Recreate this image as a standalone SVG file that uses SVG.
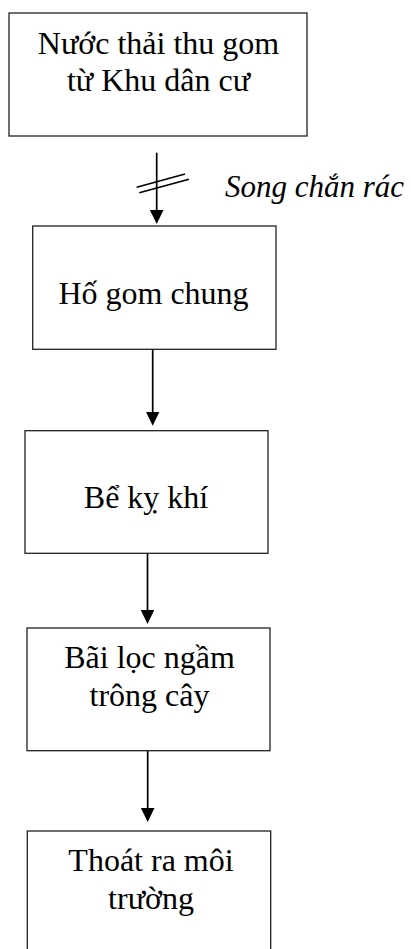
<svg xmlns="http://www.w3.org/2000/svg" width="411" height="949" viewBox="0 0 411 949">
<defs>
<style>
.box{fill:#fff;stroke:#222;stroke-width:1.3}
.t{font-family:"Liberation Serif","Times New Roman",serif;font-size:32px;fill:#000;text-anchor:middle}
.ti{font-family:"Liberation Serif","Times New Roman",serif;font-size:31px;font-style:italic;fill:#000}
.ln{stroke:#000;stroke-width:1.7;fill:none}
.arr{marker-end:url(#ah)}
</style>
<marker id="ah" markerUnits="userSpaceOnUse" markerWidth="14" markerHeight="13.6" refX="1" refY="6.8" orient="auto" viewBox="0 0 14 13.6">
<path d="M0,0 L14,6.8 L0,13.6 Z" fill="#000"/>
</marker>
</defs>
<rect width="411" height="949" fill="#fff"/>
<g id="connectors">
<line class="ln arr" x1="156.7" y1="152.7" x2="156.7" y2="211"/>
<line class="ln" x1="136.7" y1="187.3" x2="185" y2="174"/>
<line class="ln" x1="139.3" y1="192.7" x2="189" y2="179.3"/>
<line class="ln arr" x1="152.7" y1="349" x2="152.7" y2="412.7"/>
<line class="ln arr" x1="147.5" y1="553" x2="147.5" y2="611"/>
<line class="ln arr" x1="147.7" y1="751" x2="147.7" y2="809"/>
</g>
<g id="n1">
<rect class="box" x="9" y="13" width="298" height="123"/>
<text class="t" x="158.5" y="54">Nước thải thu gom</text>
<text class="t" x="158.5" y="91">từ Khu dân cư</text>
</g>
<g id="label-song">
<text class="ti" x="225" y="197">Song chắn rác</text>
</g>
<g id="n2">
<rect class="box" x="32.7" y="226" width="243.3" height="123.3"/>
<text class="t" x="153.5" y="303.5">Hố gom chung</text>
</g>
<g id="n3">
<rect class="box" x="25" y="430.7" width="243" height="122.6"/>
<text class="t" x="146" y="508">Bể kỵ khí</text>
</g>
<g id="n4">
<rect class="box" x="27" y="628" width="243" height="122.7"/>
<text class="t" x="149.5" y="668">Bãi lọc ngầm</text>
<text class="t" x="149.5" y="706">trông cây</text>
</g>
<g id="n5">
<rect class="box" x="27.3" y="831" width="243.4" height="130"/>
<text class="t" x="151" y="871">Thoát ra môi</text>
<text class="t" x="151" y="909">trường</text>
</g>
</svg>
